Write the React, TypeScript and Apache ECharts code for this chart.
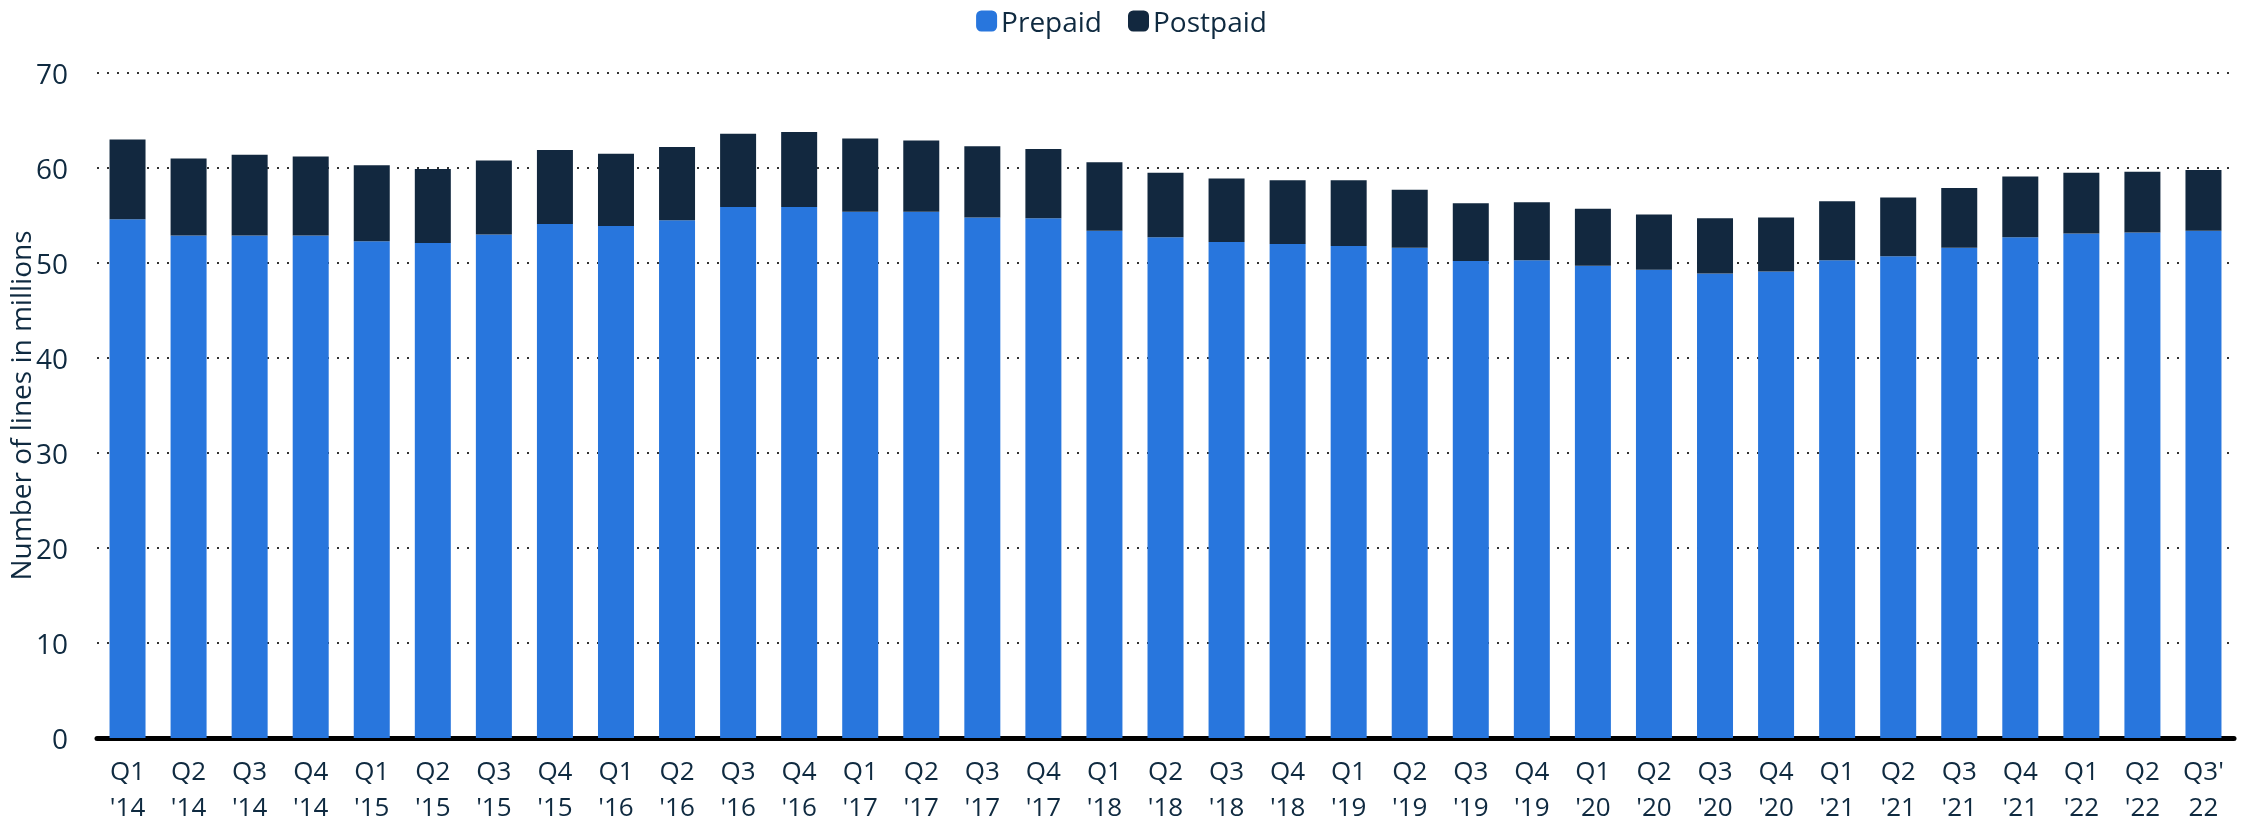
import React, { useEffect, useRef } from "react";
import * as echarts from "echarts";

const categories = [
  "Q1\n'14", "Q2\n'14", "Q3\n'14", "Q4\n'14",
  "Q1\n'15", "Q2\n'15", "Q3\n'15", "Q4\n'15",
  "Q1\n'16", "Q2\n'16", "Q3\n'16", "Q4\n'16",
  "Q1\n'17", "Q2\n'17", "Q3\n'17", "Q4\n'17",
  "Q1\n'18", "Q2\n'18", "Q3\n'18", "Q4\n'18",
  "Q1\n'19", "Q2\n'19", "Q3\n'19", "Q4\n'19",
  "Q1\n'20", "Q2\n'20", "Q3\n'20", "Q4\n'20",
  "Q1\n'21", "Q2\n'21", "Q3\n'21", "Q4\n'21",
  "Q1\n'22", "Q2\n'22", "Q3'\n22",
];

// Totals
const totals = [
  63.0, 61.0, 61.4, 61.2,
  60.3, 59.9, 60.8, 61.9,
  61.5, 62.2, 63.6, 63.8,
  63.1, 62.9, 62.3, 62.0,
  60.6, 59.5, 58.9, 58.7,
  58.7, 57.7, 56.3, 56.4,
  55.7, 55.1, 54.7, 54.8,
  56.5, 56.9, 57.9, 59.1,
  59.5, 59.6, 59.8,
];

const prepaid = [
  54.6, 52.9, 52.9, 52.9,
  52.3, 52.1, 53.0, 54.1,
  53.9, 54.5, 55.9, 55.9,
  55.4, 55.4, 54.8, 54.7,
  53.4, 52.7, 52.2, 52.0,
  51.8, 51.6, 50.2, 50.3,
  49.7, 49.3, 48.9, 49.1,
  50.3, 50.7, 51.6, 52.7,
  53.1, 53.2, 53.4,
];

const postpaid = totals.map((t, i) => Math.round((t - prepaid[i]) * 10) / 10);

const yTicks = { min: 0, max: 70, interval: 10 };

const TEXT = "#0f2a40";
const FONT = "'Open Sans', 'Noto Sans', sans-serif";

export default function App() {
  const ref = useRef<HTMLDivElement>(null);
  useEffect(() => {
    document.body.style.margin = "0";
    const chart = echarts.init(ref.current!, null, { renderer: "svg" });
    chart.setOption({
      animation: false,
      textStyle: { fontFamily: FONT, color: TEXT },
      legend: {
        top: 2,
        left: "center",
        itemWidth: 21,
        itemHeight: 21,
        itemGap: 26,
        textStyle: { fontSize: 28, color: TEXT, fontFamily: FONT, padding: [0, 0, 0, -1] },
        data: [
          { name: "Prepaid", icon: "roundRect" },
          { name: "Postpaid", icon: "roundRect" },
        ],
      },
      grid: {
        left: 97,
        right: 9,
        top: 73,
        bottom: 88,
        containLabel: false,
        outerBoundsMode: "none",
      },
      xAxis: {
        type: "category",
        data: categories,
        axisLine: { show: true, lineStyle: { color: "#000", width: 5 } },
        axisTick: { show: false },
        axisLabel: {
          color: TEXT,
          fontSize: 26,
          lineHeight: 36,
          margin: 14,
          interval: 0,
          fontFamily: FONT,
        },
      },
      yAxis: {
        type: "value",
        min: yTicks.min,
        max: yTicks.max,
        interval: yTicks.interval,
        name: "Number of lines in millions",
        nameLocation: "middle",
        nameGap: 63,
        nameMoveOverlap: false,
        nameTextStyle: { fontSize: 28, color: TEXT, fontFamily: FONT },
        axisLine: { show: false },
        axisTick: { show: false },
        axisLabel: { color: TEXT, fontSize: 28, margin: 29, fontFamily: FONT },
        splitLine: {
          show: true,
          lineStyle: { color: "#333", width: 2, type: [2, 8] },
        },
      },
      series: [
        {
          name: "Prepaid",
          type: "bar",
          stack: "lines",
          data: prepaid,
          barWidth: 36,
          itemStyle: { color: "#2876dd" },
        },
        {
          name: "Postpaid",
          type: "bar",
          stack: "lines",
          data: postpaid,
          barWidth: 36,
          itemStyle: { color: "#12283f" },
        },
      ],
    });
    return () => chart.dispose();
  }, []);
  return (
    <div
      ref={ref}
      style={{ position: "fixed", left: 0, top: 0, width: 2243, height: 826 }}
    />
  );
}
